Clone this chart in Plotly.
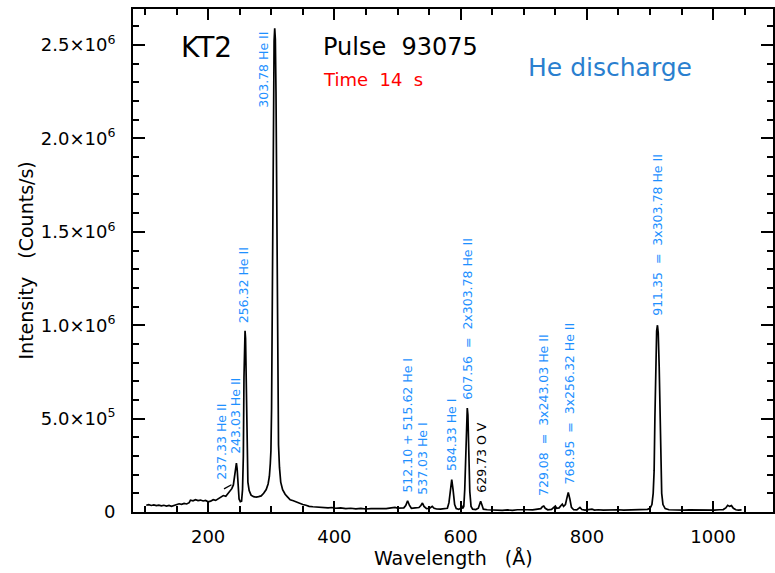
import plotly.graph_objects as go

# ---------------- data ----------------
wavelength = [
    102, 106, 110, 114, 118, 122, 126, 130, 134, 138, 142, 146, 150, 154, 158, 162, 166, 170,
    172, 176, 180, 184, 188, 192, 196, 200, 204, 208, 212, 216, 220, 224, 228, 232, 235,
    237.5, 240, 242, 243.5, 244.8, 246, 247.5, 249, 251, 253, 254.5, 255.8, 256.8, 257.8,
    258.5, 259.3, 260.3, 261.5, 263, 265, 268, 272, 276, 280, 284, 288, 292, 295, 297,
    298.5, 299.5, 300.5, 301.5, 302.5, 303.5, 304.5, 305.5, 306.5, 307.5, 308.5, 309.5,
    310.5, 311.5, 313, 315, 318, 322, 326, 330, 335, 340, 345, 350, 355, 360, 366, 372,
    378, 384, 390, 396, 402, 410, 418, 426, 434, 442, 450, 458, 466, 474, 482, 490, 496,
    500, 506, 510, 513, 516, 519, 522, 528, 534, 537, 539.5, 542, 546, 551, 555, 558, 562,
    568, 574, 579, 581.5, 583.5, 585.9, 588, 590.5, 593, 597, 600, 601.7, 603, 605, 606.5,
    608, 609.5, 610.5, 611.5, 613, 614.5, 616.5, 619, 624, 628, 630, 631.7, 633.5, 636,
    642, 650, 658, 666, 674, 682, 690, 698, 706, 714, 722, 727, 729.5, 731.7, 734, 738,
    744, 748, 750, 752, 756, 759, 761, 763, 766, 768, 770.5, 773, 775.5, 779, 784, 789,
    792, 797, 803, 808, 812, 818, 826, 834, 842, 850, 858, 866, 874, 882, 890, 896, 900,
    903, 905, 906.5, 907.7, 909, 910.5, 911.8, 913, 914.5, 915.8, 917, 918.5, 920.5, 924,
    930, 938, 946, 954, 962, 970, 978, 986, 994, 1002, 1010, 1016, 1020, 1023, 1026, 1029,
    1032, 1036, 1040, 1045,
]
intensity = [
    3.6e4, 3.9e4, 3.5e4, 3.8e4, 3.4e4, 3.7e4, 3.3e4, 3.6e4, 3.2e4, 3.5e4, 3.0e4, 3.4e4, 3.8e4, 4.4e4, 4.1e4, 4.6e4, 4.3e4, 5.0e4,
    6.3e4, 6.0e4, 6.6e4, 6.1e4, 6.4e4, 5.9e4, 6.2e4, 5.5e4, 5.8e4, 6.6e4, 6.2e4, 7.2e4, 7.8e4, 8.8e4, 8.4e4, 1.0e5, 1.15e5,
    1.25e5, 1.45e5, 2.0e5, 2.45e5, 2.62e5, 2.3e5, 1.4e5, 7.0e4, 5.5e4, 5.8e4, 1.2e5, 3.0e5, 7.2e5, 9.3e5,
    9.7e5, 9.3e5, 7.0e5, 3.0e5, 1.6e5, 1.15e5, 9.0e4, 8.2e4, 8.0e4, 8.2e4, 8.6e4, 1.0e5, 1.2e5, 1.5e5, 1.9e5,
    2.6e5, 3.3e5, 5.5e5, 1.1e6, 1.7e6, 2.25e6, 2.52e6, 2.59e6, 2.53e6, 2.25e6, 1.7e6, 1.1e6,
    6.0e5, 3.6e5, 2.4e5, 1.6e5, 1.2e5, 9.5e4, 8.0e4, 6.5e4, 6.0e4, 5.2e4, 4.5e4, 4.0e4, 3.6e4, 3.0e4, 2.8e4, 2.6e4,
    2.4e4, 2.6e4, 2.2e4, 2.4e4, 2.0e4, 2.2e4, 1.8e4, 2.0e4, 1.7e4, 1.9e4, 1.6e4, 1.8e4, 1.7e4, 2.0e4, 1.8e4, 2.2e4, 2.5e4,
    2.1e4, 2.4e4, 2.2e4, 3.5e4, 6.0e4, 3.5e4, 2.0e4, 2.2e4, 2.4e4, 3.5e4, 4.8e4, 3.0e4, 1.8e4, 2.0e4, 3.0e4, 2.0e4, 1.6e4,
    1.5e4, 1.6e4, 2.0e4, 5.0e4, 1.2e5, 1.73e5, 1.2e5, 4.0e4, 1.8e4, 1.4e4, 2.0e4, 3.5e4, 1.8e4, 3.0e4, 1.2e5,
    3.2e5, 5.2e5, 5.57e5, 5.2e5, 3.0e5, 1.1e5, 3.0e4, 1.5e4, 1.3e4, 2.0e4, 4.0e4, 5.7e4, 4.0e4, 1.5e4,
    1.2e4, 1.0e4, 1.2e4, 9.0e3, 1.1e4, 9.0e3, 1.2e4, 1.0e4, 1.2e4, 1.1e4, 1.4e4, 1.8e4, 2.8e4, 3.2e4, 2.0e4, 1.2e4,
    1.4e4, 2.5e4, 3.2e4, 2.0e4, 2.2e4, 3.5e4, 4.2e4, 3.0e4, 4.0e4, 7.0e4, 1.05e5, 7.0e4, 2.5e4, 1.2e4, 1.1e4, 2.5e4,
    1.3e4, 1.0e4, 1.1e4, 1.5e4, 1.0e4, 1.2e4, 1.0e4, 1.2e4, 1.0e4, 1.2e4, 1.0e4, 1.1e4, 1.2e4, 1.0e4, 1.2e4, 1.4e4, 2.0e4,
    4.0e4, 1.0e5, 2.2e5, 5.0e5, 8.2e5, 9.7e5, 1.0e6, 9.6e5, 7.8e5, 4.8e5, 2.2e5, 1.0e5, 4.0e4, 1.8e4,
    1.2e4, 1.0e4, 1.2e4, 1.0e4, 1.1e4, 1.0e4, 1.2e4, 1.0e4, 1.1e4, 1.0e4, 1.2e4, 1.3e4, 2.2e4, 3.6e4, 3.0e4, 3.4e4,
    2.0e4, 1.2e4, 1.0e4, 1.1e4,
]

line_labels = [
    "303.78 He II", "256.32 He II", "243.03 He II", "237.33 He II",
    "512.10 + 515.62 He I", "537.03 He I", "584.33 He I",
    "607.56  =  2x303.78 He II", "629.73 O V",
    "729.08  =  3x243.03 He II", "768.95  =  3x256.32 He II",
    "911.35  =  3x303.78 He II",
]
label_colors = ["#1e90ff"] * 8 + ["black"] + ["#1e90ff"] * 3
# label anchor positions (wavelength, intensity at bottom of rotated text)
label_x = [288.3, 256.4, 243.4, 221.1, 515.8, 539.5, 586.4, 610.5, 631.7, 732.0, 771.6, 912.7]
label_y = [2.153e6, 0.998e6, 2.98e5, 1.64e5, 9.3e4, 8.4e4, 2.09e5, 5.92e5, 9.3e4, 7.5e4, 1.37e5, 1.04e6]

y_tickvals = [0, 5e5, 1e6, 1.5e6, 2e6, 2.5e6]
y_ticktext = ["0", "5.0×10<sup>5</sup>", "1.0×10<sup>6</sup>", "1.5×10<sup>6</sup>",
              "2.0×10<sup>6</sup>", "2.5×10<sup>6</sup>"]
x_tickvals = [200, 400, 600, 800, 1000]

FONT = "DejaVu Sans"

fig = go.Figure()
fig.add_trace(go.Scatter(x=wavelength, y=intensity, mode="lines",
                         line=dict(color="black", width=1.7), showlegend=False,
                         hoverinfo="skip"))

annotations = []
for txt, col, lx, ly in zip(line_labels, label_colors, label_x, label_y):
    annotations.append(dict(x=lx, y=ly, xref="x", yref="y", text=txt.replace(" ", "\u00a0"),
                            showarrow=False, textangle=-90, xanchor="center", yanchor="bottom",
                            font=dict(family=FONT, size=12.5, color=col)))
# small pointer for 237.33 line
annotations.append(dict(x=237.0, y=1.46e5, xref="x", yref="y", text="", showarrow=True,
                        arrowhead=0, arrowwidth=1.3, arrowcolor="black", ax=-9, ay=5))

# header texts
annotations += [
    dict(x=0, y=1, xref="paper", yref="paper", xshift=206 - 133, yshift=-(47 - 9),
         text="KT2", showarrow=False, xanchor="center", yanchor="middle",
         font=dict(family=FONT, size=28, color="black")),
    dict(x=0, y=1, xref="paper", yref="paper", xshift=321 - 133, yshift=-(47 - 9),
         text="Pulse\u00a0\u00a093075", showarrow=False, xanchor="left", yanchor="middle",
         font=dict(family=FONT, size=24, color="black")),
    dict(x=0, y=1, xref="paper", yref="paper", xshift=321 - 133, yshift=-(79 - 9),
         text="Time\u00a0\u00a014\u00a0\u00a0s", showarrow=False, xanchor="left", yanchor="middle",
         font=dict(family=FONT, size=18, color="red")),
    dict(x=0, y=1, xref="paper", yref="paper", xshift=610 - 133, yshift=-(67 - 9),
         text="He discharge", showarrow=False, xanchor="center", yanchor="middle",
         font=dict(family=FONT, size=25, color="#2a7fcf")),
    # axis titles
    dict(x=0, y=0.5, xref="paper", yref="paper", xshift=25 - 133,
         text="Intensity\u00a0\u00a0\u00a0(Counts/s)", showarrow=False, textangle=-90,
         xanchor="center", yanchor="middle", font=dict(family=FONT, size=19, color="black")),
    dict(x=0.5, y=0, xref="paper", yref="paper", yshift=-(558 - 512),
         text="Wavelength\u00a0\u00a0\u00a0(Å)", showarrow=False,
         xanchor="center", yanchor="middle", font=dict(family=FONT, size=19, color="black")),
]

fig.update_layout(
    width=775, height=573,
    margin=dict(l=133, r=0, t=9, b=61, pad=0),
    paper_bgcolor="white", plot_bgcolor="white",
    annotations=annotations,
    font=dict(family=FONT, size=18, color="black"),
)
fig.update_xaxes(
    range=[81, 1094.8], tickvals=x_tickvals, ticks="inside", ticklen=11, tickwidth=1.5,
    tickcolor="black", showline=True, linecolor="black", linewidth=2, mirror="allticks",
    showgrid=False, zeroline=False, ticklabelstandoff=7,
    tickfont=dict(family=FONT, size=18, color="black"),
    minor=dict(dtick=50, tick0=0, ticks="inside", ticklen=6, tickwidth=1.5, tickcolor="black",
               showgrid=False),
)
fig.update_yaxes(
    range=[0, 2.693e6], tickvals=y_tickvals, ticktext=y_ticktext, ticks="inside", ticklen=12,
    tickwidth=1.5, tickcolor="black", showline=True, linecolor="black", linewidth=2,
    mirror="allticks", showgrid=False, zeroline=False, ticklabelstandoff=12,
    tickfont=dict(family=FONT, size=18, color="black"),
    minor=dict(dtick=1e5, tick0=0, ticks="inside", ticklen=6, tickwidth=1.5, tickcolor="black",
               showgrid=False),
)

fig.write_html("out.html")
